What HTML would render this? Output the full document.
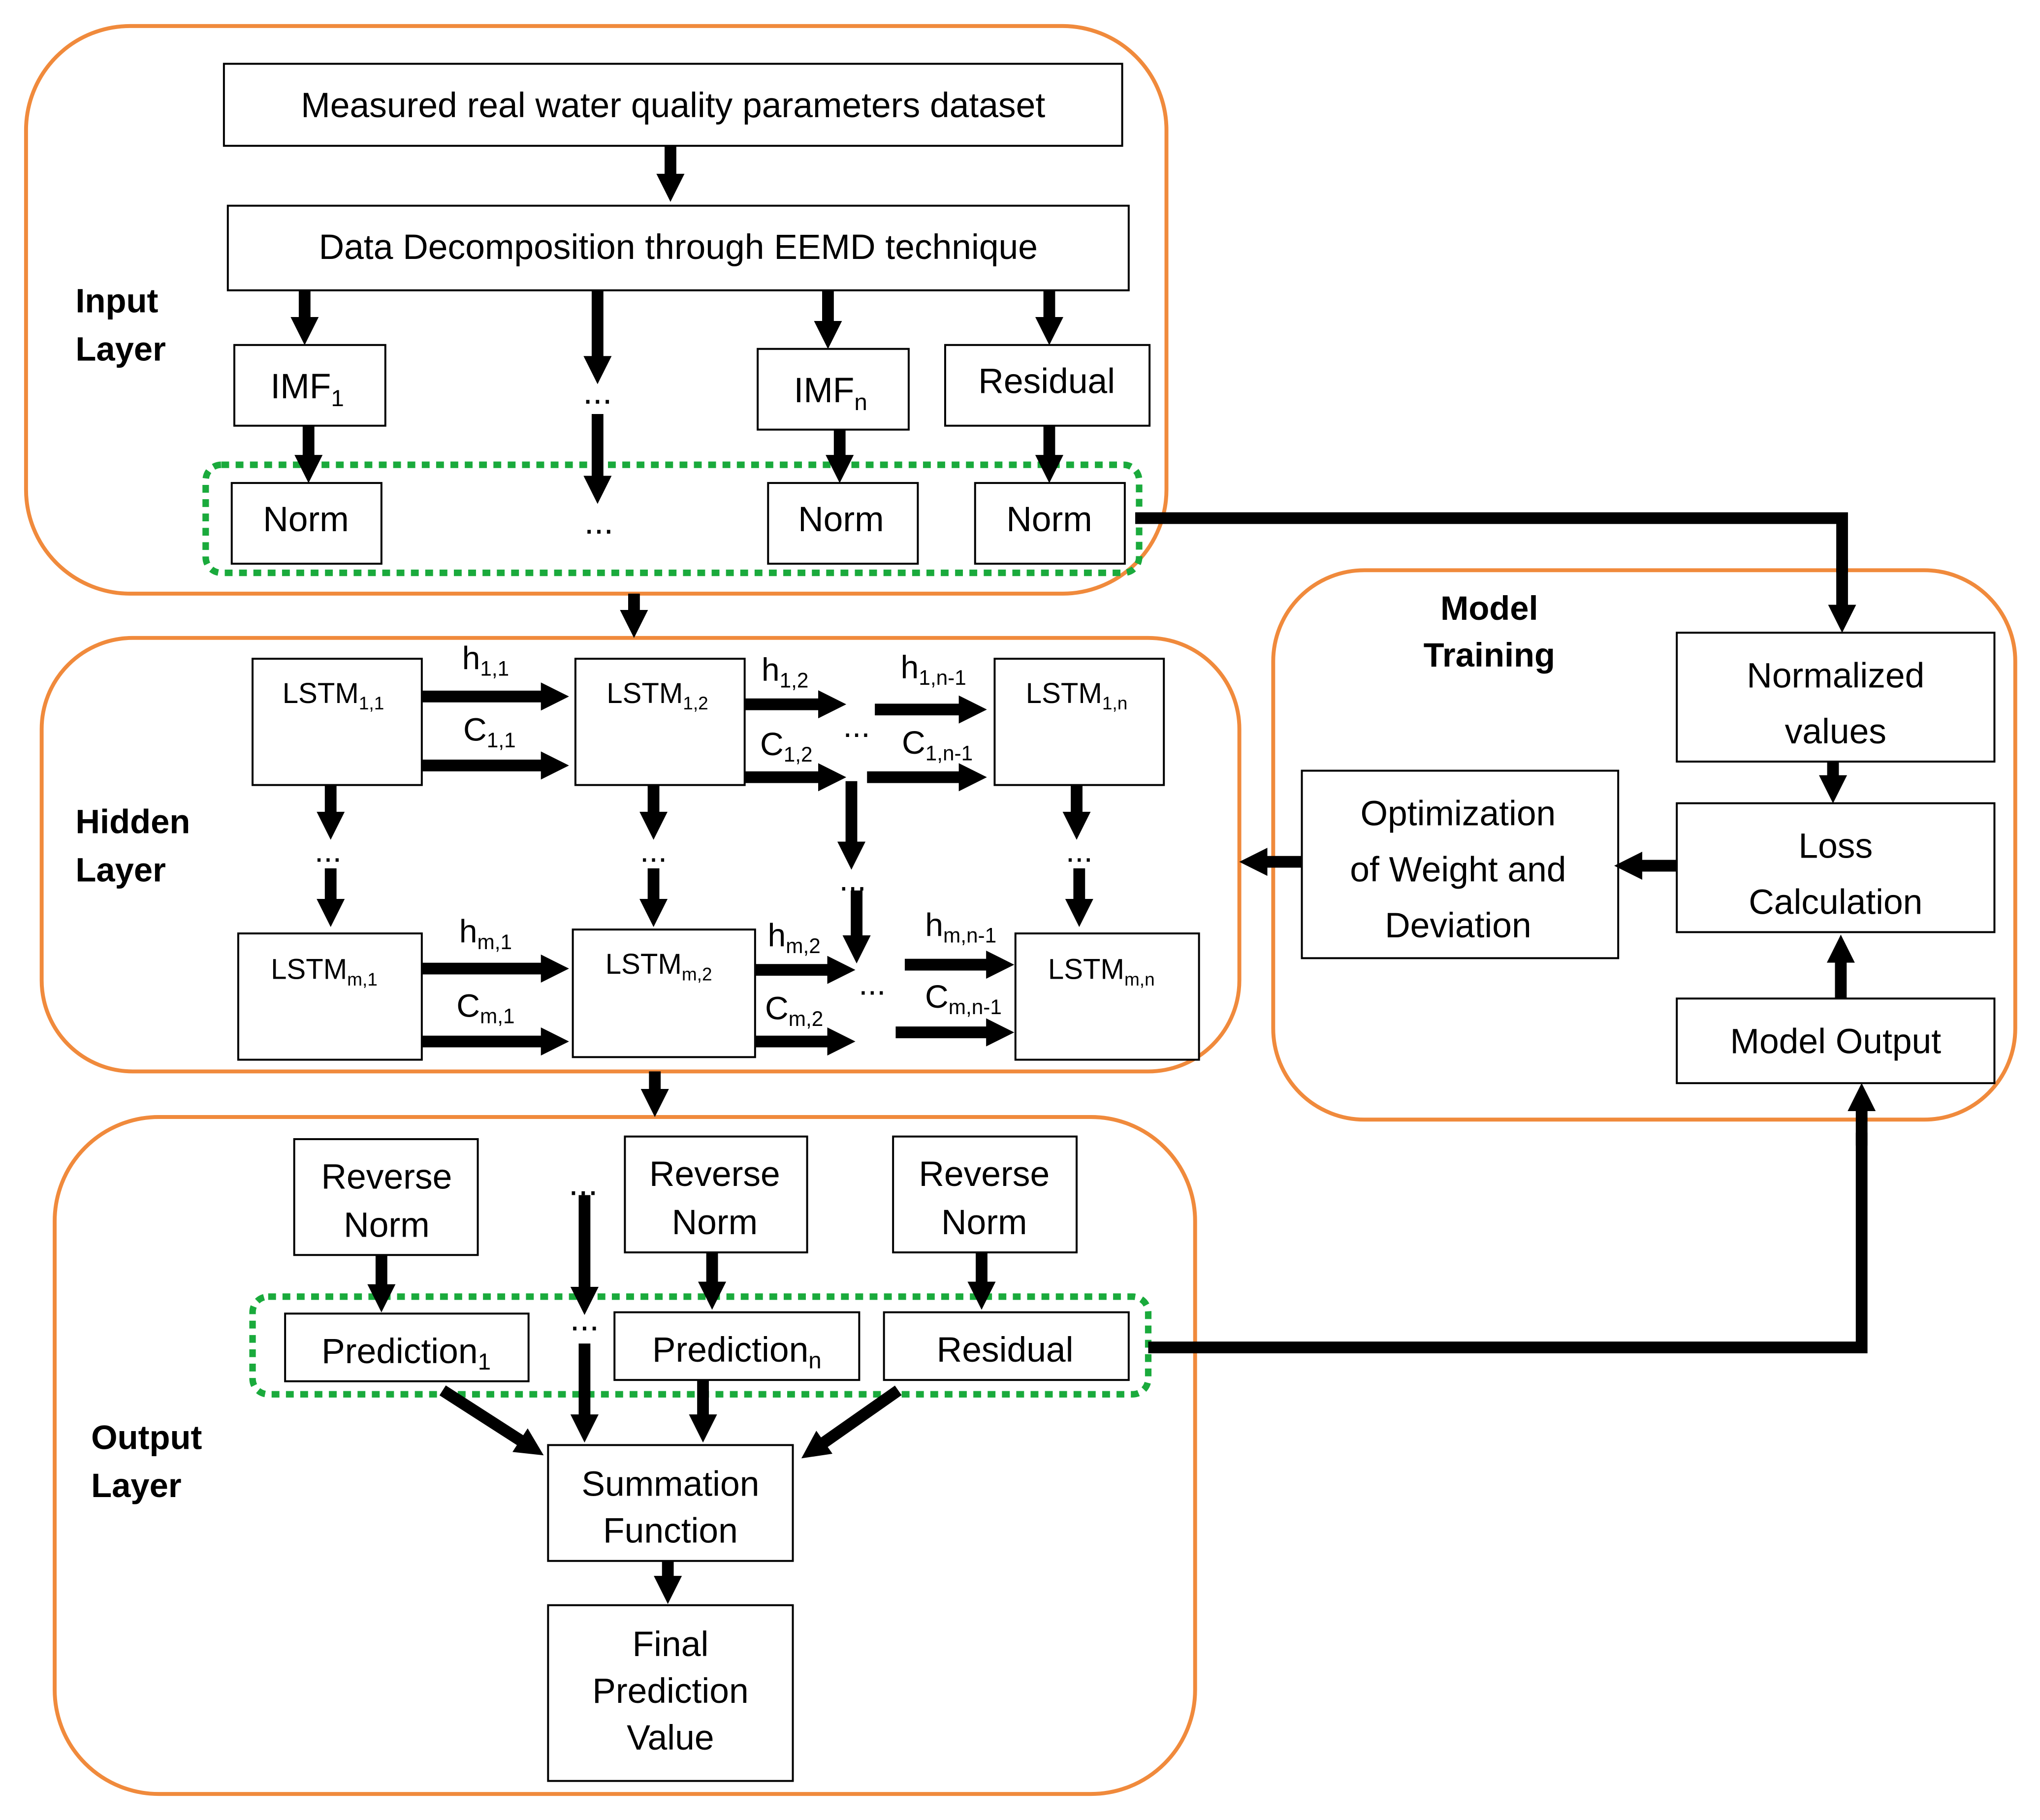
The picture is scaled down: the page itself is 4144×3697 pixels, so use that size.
<!DOCTYPE html>
<html><head><meta charset="utf-8"><style>
html,body{margin:0;padding:0;background:#fff;}
svg{display:block;}
text{font-family:"Liberation Sans",sans-serif;fill:#000;}
</style></head><body>
<svg width="4144" height="3697" viewBox="0 0 1567 1398" preserveAspectRatio="none" xmlns="http://www.w3.org/2000/svg">
<defs>
<marker id="a" viewBox="0 0 10 10" refX="5.8" refY="5" markerWidth="2.4" markerHeight="2.4" markerUnits="strokeWidth" orient="auto">
<path d="M0,0 L10,5 L0,10 z" fill="#000"/></marker>
</defs>
<g fill="none" stroke="#f08a3c" stroke-width="3">
<rect x="20" y="20" width="876" height="436" rx="80"/>
<rect x="32" y="490" width="920" height="333" rx="70"/>
<rect x="42" y="858" width="876" height="520" rx="80"/>
<rect x="978" y="438" width="570" height="422" rx="70"/>
</g>
<g fill="none" stroke="#1aaa3c" stroke-width="5" stroke-dasharray="6,5">
<rect x="158" y="357" width="717" height="83" rx="12"/>
<rect x="194" y="996" width="688" height="75" rx="12"/>
</g>
<g fill="#fff" stroke="#000" stroke-width="1.5">
<rect x="172" y="49" width="690" height="63"/>
<rect x="175" y="158" width="692" height="65"/>
<rect x="180" y="265" width="116" height="62"/>
<rect x="582" y="268" width="116" height="62"/>
<rect x="726" y="265" width="157" height="62"/>
<rect x="178" y="371" width="115" height="62"/>
<rect x="590" y="371" width="115" height="62"/>
<rect x="749" y="371" width="115" height="62"/>
<rect x="194" y="506" width="130" height="97"/>
<rect x="442" y="506" width="130" height="97"/>
<rect x="764" y="506" width="130" height="97"/>
<rect x="183" y="717" width="141" height="97"/>
<rect x="440" y="714" width="140" height="98"/>
<rect x="780" y="717" width="141" height="97"/>
<rect x="226" y="875" width="141" height="89"/>
<rect x="480" y="873" width="140" height="89"/>
<rect x="686" y="873" width="141" height="89"/>
<rect x="219" y="1009" width="187" height="52"/>
<rect x="472" y="1008" width="188" height="52"/>
<rect x="679" y="1008" width="188" height="52"/>
<rect x="421" y="1110" width="188" height="89"/>
<rect x="421" y="1233" width="188" height="135"/>
<rect x="1288" y="486" width="244" height="99"/>
<rect x="1288" y="617" width="244" height="99"/>
<rect x="1000" y="592" width="243" height="144"/>
<rect x="1288" y="767" width="244" height="65"/>
</g>
<g stroke="#000" stroke-width="9" marker-end="url(#a)" fill="none">
<line x1="515" y1="112" x2="515" y2="146"/>
<line x1="234" y1="223" x2="234" y2="256"/>
<line x1="459" y1="223" x2="459" y2="286"/>
<line x1="636" y1="223" x2="636" y2="259"/>
<line x1="806" y1="223" x2="806" y2="256"/>
<line x1="237" y1="327" x2="237" y2="362"/>
<line x1="645" y1="330" x2="645" y2="362"/>
<line x1="806" y1="327" x2="806" y2="362"/>
<line x1="459" y1="318" x2="459" y2="378"/>
<line x1="487" y1="456" x2="487" y2="481"/>
<line x1="324" y1="535" x2="428" y2="535"/>
<line x1="324" y1="588" x2="428" y2="588"/>
<line x1="572" y1="541" x2="641" y2="541"/>
<line x1="572" y1="597" x2="641" y2="597"/>
<line x1="672" y1="545" x2="749" y2="545"/>
<line x1="666" y1="597" x2="749" y2="597"/>
<line x1="254" y1="603" x2="254" y2="636"/>
<line x1="254" y1="667" x2="254" y2="703"/>
<line x1="502" y1="603" x2="502" y2="636"/>
<line x1="502" y1="667" x2="502" y2="703"/>
<line x1="827" y1="603" x2="827" y2="636"/>
<line x1="829" y1="667" x2="829" y2="703"/>
<line x1="654" y1="600" x2="654" y2="659"/>
<line x1="658" y1="684" x2="658" y2="731"/>
<line x1="324" y1="744" x2="428" y2="744"/>
<line x1="324" y1="800" x2="428" y2="800"/>
<line x1="580" y1="745" x2="648" y2="745"/>
<line x1="580" y1="800" x2="648" y2="800"/>
<line x1="695" y1="741" x2="770" y2="741"/>
<line x1="688" y1="793" x2="770" y2="793"/>
<line x1="503" y1="823" x2="503" y2="849"/>
<line x1="293" y1="964" x2="293" y2="999"/>
<line x1="547" y1="962" x2="547" y2="997"/>
<line x1="754" y1="962" x2="754" y2="997"/>
<line x1="449" y1="918" x2="449" y2="1001"/>
<line x1="449" y1="1032" x2="449" y2="1099"/>
<line x1="540" y1="1060" x2="540" y2="1099"/>
<line x1="340" y1="1068" x2="410" y2="1113"/>
<line x1="690" y1="1068" x2="623" y2="1115"/>
<line x1="513" y1="1199" x2="513" y2="1223"/>
<line x1="1408" y1="585" x2="1408" y2="608"/>
<line x1="1288" y1="665" x2="1249" y2="665"/>
<line x1="1000" y1="662" x2="961" y2="662"/>
<line x1="1414" y1="767" x2="1414" y2="727"/>
</g>
<g stroke="#000" stroke-width="9" fill="none">
<polyline points="872,398 1415,398 1415,440"/>
<polyline points="882,1035 1430,1035 1430,870"/>
</g>
<g stroke="#000" stroke-width="9" fill="none" marker-end="url(#a)">
<line x1="1415" y1="430" x2="1415" y2="477"/>
<line x1="1430" y1="880" x2="1430" y2="841"/>
</g>
<g font-size="27" text-anchor="middle">
<text x="517" y="90">Measured real water quality parameters dataset</text>
<text x="521" y="199">Data Decomposition through EEMD technique</text>
<text x="236" y="306">IMF<tspan font-size="18" dy="6">1</tspan></text>
<text x="638" y="309">IMF<tspan font-size="18" dy="6">n</tspan></text>
<text x="804" y="302">Residual</text>
<text x="235" y="408">Norm</text>
<text x="646" y="408">Norm</text>
<text x="806" y="408">Norm</text>
<text x="459" y="310">...</text>
<text x="460" y="410">...</text>
<text x="297" y="913">Reverse</text><text x="297" y="950">Norm</text>
<text x="549" y="911">Reverse</text><text x="549" y="948">Norm</text>
<text x="756" y="911">Reverse</text><text x="756" y="948">Norm</text>
<text x="312" y="1047">Prediction<tspan font-size="18" dy="5">1</tspan></text>
<text x="566" y="1046">Prediction<tspan font-size="18" dy="5">n</tspan></text>
<text x="772" y="1046">Residual</text>
<text x="448" y="918">...</text>
<text x="449" y="1022">...</text>
<text x="515" y="1149">Summation</text><text x="515" y="1185">Function</text>
<text x="515" y="1272">Final</text><text x="515" y="1308">Prediction</text><text x="515" y="1344">Value</text>
<text x="1410" y="528">Normalized</text><text x="1410" y="571">values</text>
<text x="1410" y="659">Loss</text><text x="1410" y="702">Calculation</text>
<text x="1120" y="634">Optimization</text><text x="1120" y="677">of Weight and</text><text x="1120" y="720">Deviation</text>
<text x="1410" y="809">Model Output</text>
</g>
<g font-size="22" text-anchor="middle">
<text x="256" y="540">LSTM<tspan font-size="14" dy="5">1,1</tspan></text>
<text x="505" y="540">LSTM<tspan font-size="14" dy="5">1,2</tspan></text>
<text x="827" y="540">LSTM<tspan font-size="14" dy="5">1,n</tspan></text>
<text x="249" y="752">LSTM<tspan font-size="14" dy="5">m,1</tspan></text>
<text x="506" y="748">LSTM<tspan font-size="14" dy="5">m,2</tspan></text>
<text x="846" y="752">LSTM<tspan font-size="14" dy="5">m,n</tspan></text>
</g>
<g font-size="25" text-anchor="middle">
<text x="373" y="514">h<tspan font-size="16" dy="5">1,1</tspan></text>
<text x="376" y="569">C<tspan font-size="16" dy="5">1,1</tspan></text>
<text x="603" y="523">h<tspan font-size="16" dy="5">1,2</tspan></text>
<text x="604" y="580">C<tspan font-size="16" dy="5">1,2</tspan></text>
<text x="717" y="521">h<tspan font-size="16" dy="5">1,n-1</tspan></text>
<text x="720" y="579">C<tspan font-size="16" dy="5">1,n-1</tspan></text>
<text x="373" y="724">h<tspan font-size="16" dy="5">m,1</tspan></text>
<text x="373" y="781">C<tspan font-size="16" dy="5">m,1</tspan></text>
<text x="610" y="727">h<tspan font-size="16" dy="5">m,2</tspan></text>
<text x="610" y="783">C<tspan font-size="16" dy="5">m,2</tspan></text>
<text x="738" y="719">h<tspan font-size="16" dy="5">m,n-1</tspan></text>
<text x="740" y="774">C<tspan font-size="16" dy="5">m,n-1</tspan></text>
<text x="658" y="566">...</text>
<text x="252" y="662">...</text>
<text x="502" y="662">...</text>
<text x="829" y="662">...</text>
<text x="655" y="684">...</text>
<text x="670" y="764">...</text>
</g>
<g font-size="26" font-weight="bold">
<text x="58" y="240">Input</text><text x="58" y="277">Layer</text>
<text x="58" y="640">Hidden</text><text x="58" y="677">Layer</text>
<text x="70" y="1113">Output</text><text x="70" y="1150">Layer</text>
<text x="1144" y="476" text-anchor="middle">Model</text><text x="1144" y="512" text-anchor="middle">Training</text>
</g>
</svg>
</body></html>
